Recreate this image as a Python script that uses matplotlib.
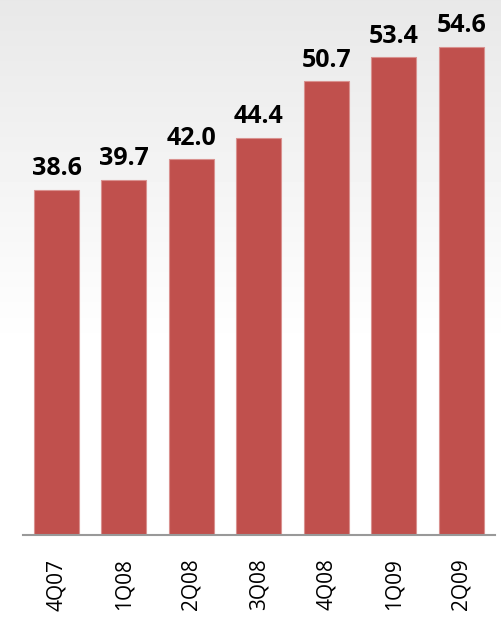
import matplotlib
matplotlib.use("Agg")
import matplotlib.pyplot as plt
import numpy as np

quarters = ["4Q07", "1Q08", "2Q08", "3Q08", "4Q08", "1Q09", "2Q09"]
values = [38.6, 39.7, 42.0, 44.4, 50.7, 53.4, 54.6]

plt.rcParams["font.family"] = ["Open Sans", "DejaVu Sans"]

fig = plt.figure(figsize=(5.01, 6.21), dpi=100)

# background: light gray at top fading to white
bg = fig.add_axes([0, 0, 1, 1], zorder=0)
grad = np.linspace(0, 1, 621)
shade = 0.91 + 0.09 * np.clip(grad / 0.56, 0, 1)
img = np.repeat(shade[:, None], 2, axis=1)
bg.imshow(img, cmap="gray", vmin=0, vmax=1, aspect="auto", extent=[0, 1, 0, 1], origin="upper")
bg.set_axis_off()

ax = fig.add_axes([0.0454, 0.1385, 0.943, 0.8615], zorder=1)
ax.patch.set_alpha(0)
x = np.arange(len(values))
ax.bar(x, values, width=0.667, color="#C0504D", edgecolor="#D9918F", linewidth=0.8)

for xi, v in zip(x, values):
    ax.annotate(f"{v:.1f}", xy=(xi, v), xytext=(0, 6), textcoords="offset points",
                ha="center", va="bottom", fontsize=18, fontweight="bold", color="black")

ax.set_xlim(-0.5, len(values) - 0.5)
ax.set_ylim(0, 59.8)
ax.set_xticks(x)
ax.set_xticklabels(quarters, rotation=90, fontsize=15)
ax.tick_params(axis="x", length=0, pad=17)
ax.set_yticks([])
for s in ["top", "right", "left"]:
    ax.spines[s].set_visible(False)
ax.spines["bottom"].set_color("#999999")
ax.spines["bottom"].set_linewidth(1.5)

fig.savefig("out.png", dpi=100)
